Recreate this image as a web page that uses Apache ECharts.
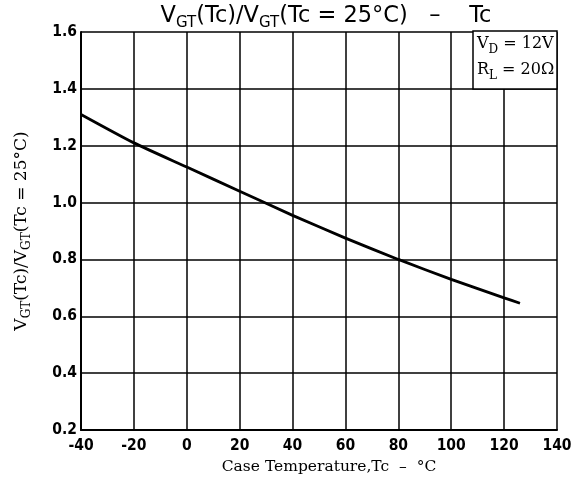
<!DOCTYPE html>
<html><head><meta charset="utf-8">
<script src="https://cdn.jsdelivr.net/npm/echarts@6/dist/echarts.min.js"></script>
<style>html,body{margin:0;padding:0;background:#fff}#c{width:587px;height:482px}</style>
</head><body><div id="c"></div>
<script>
const tempC = [-40, -20, 0, 20, 40, 60, 80, 100, 120, 126];
const ratio = [1.31, 1.21, 1.125, 1.04, 0.955, 0.875, 0.80, 0.73, 0.665, 0.646];
const xTicks = [-40, -20, 0, 20, 40, 60, 80, 100, 120, 140];
const yTicks = [0.2, 0.4, 0.6, 0.8, 1.0, 1.2, 1.4, 1.6];

const chart = echarts.init(document.getElementById('c'), null, {renderer: 'canvas'});
const tickFont = {fontFamily: 'DejaVu Sans Condensed', fontWeight: 'bold', fontSize: 15.5, color: '#000'};
// rich styles for normal text + dropped subscript
function subRich(family, N, S, L, d) {
  const cs = N / 2 + 0.35 * N + d - 0.35 * S;
  const hs = 2 * (L - cs);
  return {
    n: {fontFamily: family, fontSize: N, fontWeight: 'normal', color: '#000', lineHeight: L, verticalAlign: 'top', height: N},
    s: {fontFamily: family, fontSize: S, fontWeight: 'normal', color: '#000', lineHeight: L, verticalAlign: 'bottom', height: hs}
  };
}
chart.setOption({
  animation: false,
  backgroundColor: '#fff',
  title: [{
    text: '{n|V}{s|GT}{n|(Tc)/V}{s|GT}{n|(Tc = 25°C)   –    Tc}',
    left: 326, textAlign: 'center', top: 5, padding: 0,
    textStyle: {rich: subRich('DejaVu Sans', 22.5, 15, 28, 4)}
  }, {
    text: '{n|V}{s|D}{n| = 12V}\n{n|R}{s|L}{n| = 20Ω}',
    left: 473, top: 31, padding: [5, 3, 1, 4],
    borderColor: '#000', borderWidth: 1.5, backgroundColor: '#fff',
    textStyle: {rich: subRich('DejaVu Serif', 16, 12, 26, 4)}
  }],
  grid: {left: 81, right: 30, top: 32, bottom: 52, containLabel: false},
  xAxis: {
    type: 'value', min: -40, max: 140, interval: 20,
    axisLine: {show: true, onZero: false, lineStyle: {color: '#000', width: 2}},
    axisTick: {show: false},
    splitLine: {show: true, lineStyle: {color: '#000', width: 1.5}},
    axisLabel: Object.assign({margin: 8, formatter: v => xTicks.includes(v) ? String(v) : ''}, tickFont),
    name: 'Case Temperature,Tc  –  °C',
    nameLocation: 'middle', nameGap: 29,
    nameTextStyle: {fontFamily: 'DejaVu Serif', fontSize: 15.5, color: '#000', padding: [0, 0, 0, 20]}
  },
  yAxis: {
    type: 'value', min: 0.2, max: 1.6, interval: 0.2,
    axisLine: {show: true, onZero: false, lineStyle: {color: '#000', width: 2}},
    axisTick: {show: false},
    splitLine: {show: true, lineStyle: {color: '#000', width: 1.5}},
    axisLabel: Object.assign({margin: 4, formatter: v => yTicks.some(t => Math.abs(t - v) < 1e-6) ? v.toFixed(1) : ''}, tickFont),
    name: '{n|V}{s|GT}{n|(Tc)/V}{s|GT}{n|(Tc = 25°C)}',
    nameLocation: 'middle', nameRotate: 90, nameGap: 46,
    nameTextStyle: {rich: subRich('DejaVu Serif', 17, 12, 22, 4)}
  },
  series: [{
    type: 'line', smooth: 0.2, symbol: 'none',
    data: tempC.map((t, i) => [t, ratio[i]]),
    lineStyle: {color: '#000', width: 2.8}
  }]
});
</script></body></html>
